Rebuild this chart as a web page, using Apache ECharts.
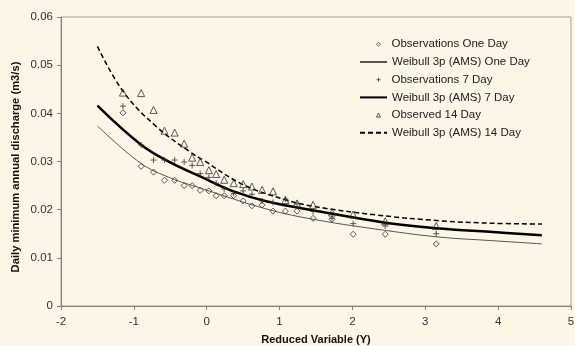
<!DOCTYPE html>
<html>
<head>
<meta charset="utf-8">
<script src="https://cdn.jsdelivr.net/npm/echarts@6/dist/echarts.min.js"></script>
<style>
  html, body { margin: 0; padding: 0; background: #fdf5e6; }
  #chart { width: 575px; height: 346px; }
</style>
</head>
<body>
<div id="chart"></div>
<script>
// reduced variable of each observation (shared by the three samples)
const obsX = [-1.15, -0.90, -0.73, -0.58, -0.44, -0.31, -0.20, -0.09, 0.03, 0.13, 0.24, 0.37,
    0.50, 0.62, 0.76, 0.91, 1.08, 1.24, 1.46, 1.72, 2.01, 2.45, 3.15];
const obsOneDay = [0.0401, 0.0290, 0.0278, 0.0261, 0.0261, 0.0250, 0.0250, 0.0240, 0.0239, 0.0229, 0.0229, 0.0229,
    0.0218, 0.0208, 0.0210, 0.0197, 0.0197, 0.0197, 0.0182, 0.0180, 0.0149, 0.0149, 0.0129];
const obsSevenDay = [0.0415, 0.0334, 0.0303, 0.0303, 0.0303, 0.0299, 0.0292, 0.0275, 0.0267, 0.0255, 0.0243, 0.0234,
    0.0239, 0.0232, 0.0218, 0.0215, 0.0222, 0.0212, 0.0196, 0.0182, 0.0171, 0.0166, 0.0150];
const obsFourteenDay = [0.0443, 0.0442, 0.0407, 0.0364, 0.0360, 0.0337, 0.0308, 0.0299, 0.0282, 0.0274, 0.0262, 0.0255,
    0.0253, 0.0248, 0.0241, 0.0238, 0.0220, 0.0213, 0.0210, 0.0194, 0.0190, 0.0176, 0.0166];

// fitted Weibull 3p curves
const fitOneX = [-1.5, -0.91, -0.5, -0.09, 0.83, 1.5, 2.45, 3.2, 3.88, 4.6];
const fitOneY = [0.0374, 0.0297, 0.0266, 0.0245, 0.0201, 0.0179, 0.0157, 0.0143, 0.0136, 0.0129];
const fitSevenX = [-1.5, -0.91, -0.5, -0.09, 0.37, 0.83, 1.45, 2.45, 3.2, 3.88, 4.6];
const fitSevenY = [0.0416, 0.0336, 0.0298, 0.0269, 0.0238, 0.0217, 0.0199, 0.0173, 0.0161, 0.0154, 0.0147];
const fitFourteenX = [-1.5, -1.14, -0.68, -0.23, -0.05, 0.5, 1.07, 1.46, 2.33, 3.2, 3.88, 4.6];
const fitFourteenY = [0.0539, 0.0444, 0.0371, 0.0320, 0.0303, 0.0252, 0.0221, 0.0207, 0.0189, 0.0177, 0.0172, 0.0170];

const xTicks = { min: -2, max: 5, interval: 1 };
const yTicks = { min: 0, max: 0.06, interval: 0.01 };

const crossPath = 'path://M0,5L10,5M5,0L5,10';
const pairs = (xs, ys) => xs.map((x, i) => [x, ys[i]]);
const font = 'Liberation Sans, Arial, sans-serif';

const chart = echarts.init(document.getElementById('chart'));

const markerStyle = {
    color: 'rgba(0,0,0,0)',
    borderColor: '#333',
    borderWidth: 1
};
const noIcon = { color: 'rgba(0,0,0,0)', borderWidth: 0 };
const legendText = { fontSize: 11.5, color: '#222' };

const option = {
    backgroundColor: '#fdf5e6',
    animation: false,
    textStyle: { fontFamily: font },
    grid: {
        left: 61,
        right: 4,
        top: 17,
        bottom: 40,
        outerBoundsMode: 'none',
        show: true,
        borderColor: '#a0a0a0',
        borderWidth: 1
    },
    // two interleaved legends: small markers and line samples
    legend: [
        {
            orient: 'vertical',
            left: 371,
            top: 33.3,
            itemWidth: 4,
            itemHeight: 4,
            itemGap: 23.4,
            textStyle: Object.assign({ padding: [0, 0, 0, 6] }, legendText),
            itemStyle: { borderWidth: 1 },
            data: ['Observations One Day', 'Observations 7 Day', 'Observed 14 Day']
        },
        {
            orient: 'vertical',
            left: 354,
            top: 51,
            itemWidth: 27,
            itemHeight: 4,
            itemGap: 23.4,
            textStyle: legendText,
            data: [
                { name: 'Weibull 3p (AMS) One Day', itemStyle: noIcon },
                { name: 'Weibull 3p (AMS) 7 Day', itemStyle: noIcon },
                { name: 'Weibull 3p (AMS) 14 Day', itemStyle: noIcon }
            ]
        }
    ],
    xAxis: {
        type: 'value',
        min: xTicks.min,
        max: xTicks.max,
        interval: xTicks.interval,
        name: 'Reduced Variable (Y)',
        nameLocation: 'middle',
        nameGap: 28,
        nameTextStyle: { fontWeight: 'bold', fontSize: 11, color: '#111' },
        axisLine: { onZero: false, lineStyle: { color: '#808080' } },
        axisTick: { length: 4, lineStyle: { color: '#808080' } },
        axisLabel: { fontSize: 11.5, color: '#333', margin: 10 },
        splitLine: { show: false }
    },
    yAxis: {
        type: 'value',
        min: yTicks.min,
        max: yTicks.max,
        interval: yTicks.interval,
        axisLine: { show: true, onZero: false, lineStyle: { color: '#808080' } },
        axisTick: { show: true, length: 4, lineStyle: { color: '#808080' } },
        axisLabel: { fontSize: 11.5, color: '#333', margin: 8 },
        splitLine: { show: false }
    },
    graphic: [{
        type: 'text',
        x: 16,
        y: 167,
        rotation: Math.PI / 2,
        style: {
            text: 'Daily minimum annual discharge (m3/s)',
            fontFamily: font,
            fontSize: 11.2,
            fontWeight: 'bold',
            fill: '#111',
            align: 'center',
            verticalAlign: 'middle'
        }
    }],
    series: [
        {
            name: 'Observations One Day',
            type: 'scatter',
            symbol: 'diamond',
            symbolSize: 6,
            itemStyle: markerStyle,
            data: pairs(obsX, obsOneDay),
            z: 3
        },
        {
            name: 'Weibull 3p (AMS) One Day',
            type: 'line',
            smooth: 0.4,
            symbol: 'none',
            lineStyle: { color: '#555', width: 1 },
            itemStyle: { color: '#555' },
            data: pairs(fitOneX, fitOneY)
        },
        {
            name: 'Observations 7 Day',
            type: 'scatter',
            symbol: crossPath,
            symbolSize: 6,
            itemStyle: markerStyle,
            data: pairs(obsX, obsSevenDay),
            z: 3
        },
        {
            name: 'Weibull 3p (AMS) 7 Day',
            type: 'line',
            smooth: 0.4,
            symbol: 'none',
            lineStyle: { color: '#000', width: 2.5 },
            itemStyle: { color: '#000' },
            data: pairs(fitSevenX, fitSevenY)
        },
        {
            name: 'Observed 14 Day',
            type: 'scatter',
            symbol: 'triangle',
            symbolSize: 7,
            itemStyle: markerStyle,
            data: pairs(obsX, obsFourteenDay),
            z: 3
        },
        {
            name: 'Weibull 3p (AMS) 14 Day',
            type: 'line',
            smooth: 0.4,
            symbol: 'none',
            lineStyle: { color: '#000', width: 1.5, type: [5, 3] },
            itemStyle: { color: '#000' },
            data: pairs(fitFourteenX, fitFourteenY)
        }
    ]
};

chart.setOption(option);
</script>
</body>
</html>
